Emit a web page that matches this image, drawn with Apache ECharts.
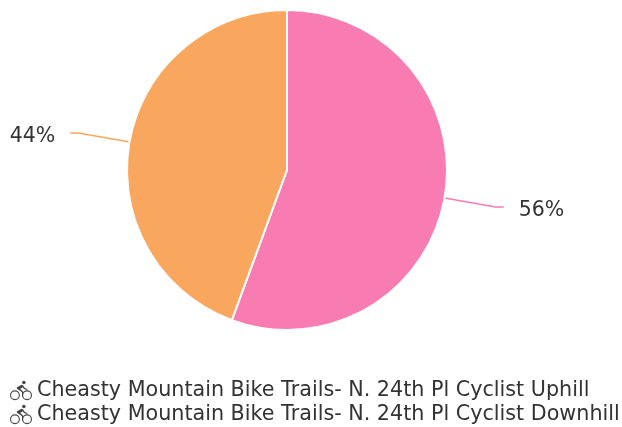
<!DOCTYPE html>
<html><head><meta charset="utf-8">
<style>html,body{margin:0;padding:0;background:#fff}#c{width:622px;height:427px}</style>
<script src="https://cdn.jsdelivr.net/npm/echarts@6/dist/echarts.min.js"></script>
</head><body><div id="c"></div>
<script>
const categories = ["Cheasty Mountain Bike Trails- N. 24th Pl Cyclist Uphill", "Cheasty Mountain Bike Trails- N. 24th Pl Cyclist Downhill"];
const values = [55.6, 44.4];
const colors = ["#f87bb2", "#f9a65f"];
const fontStack = '"DejaVu Sans", sans-serif';
const bikeIcon = 'path://M0 13.5a4.5 4.5 0 1 1 9 0a4.5 4.5 0 1 1-9 0zM1 13.5a3.5 3.5 0 1 0 7 0a3.5 3.5 0 1 0-7 0zM11 13.5a4.5 4.5 0 1 1 9 0a4.5 4.5 0 1 1-9 0zM12 13.5a3.5 3.5 0 1 0 7 0a3.5 3.5 0 1 0-7 0zM11 2a1.6 1.6 0 1 1 3.2 0a1.6 1.6 0 1 1-3.2 0zM6 6.5l4.5-2.5 1.5.6 1.5 2.4 2.5.8-.3 1-3-1-1-1.5-2.4 1.6 2.6 2.2v4.4h-1v-3.8l-4.4-3.2z';
const chart = echarts.init(document.getElementById('c'), null, {renderer: 'canvas'});
chart.setOption({
  animation: false,
  legend: {
    orient: 'vertical', left: 10, top: 380, height: 60, itemWidth: 22, itemHeight: 22, itemGap: 3, padding: 0,
    icon: bikeIcon, selectedMode: false,
    textStyle: {fontFamily: fontStack, fontSize: 20.7, color: '#333', padding: [0,0,0,0]},
    data: categories,
    itemStyle: {color: '#444', borderWidth: 0}
  },
  series: [{
    type: 'pie', center: [287, 170], radius: [0, 160], startAngle: 90, clockwise: true,
    percentPrecision: 0,
    data: categories.map((name, i) => ({name, value: values[i], itemStyle: {color: colors[i]}})),
    itemStyle: {borderColor: '#fff', borderWidth: 2},
    label: {formatter: '{d}%', fontFamily: fontStack, fontSize: 20.5, color: '#333', position: 'outside', distanceToLabelLine: 15, overflow: 'none', bleedMargin: 0},
    labelLine: {show: true, smooth: 0.2, length: 52, length2: 8, lineStyle: {width: 1.5}},
    labelLayout: {dy: 4}
  }]
});
</script></body></html>
